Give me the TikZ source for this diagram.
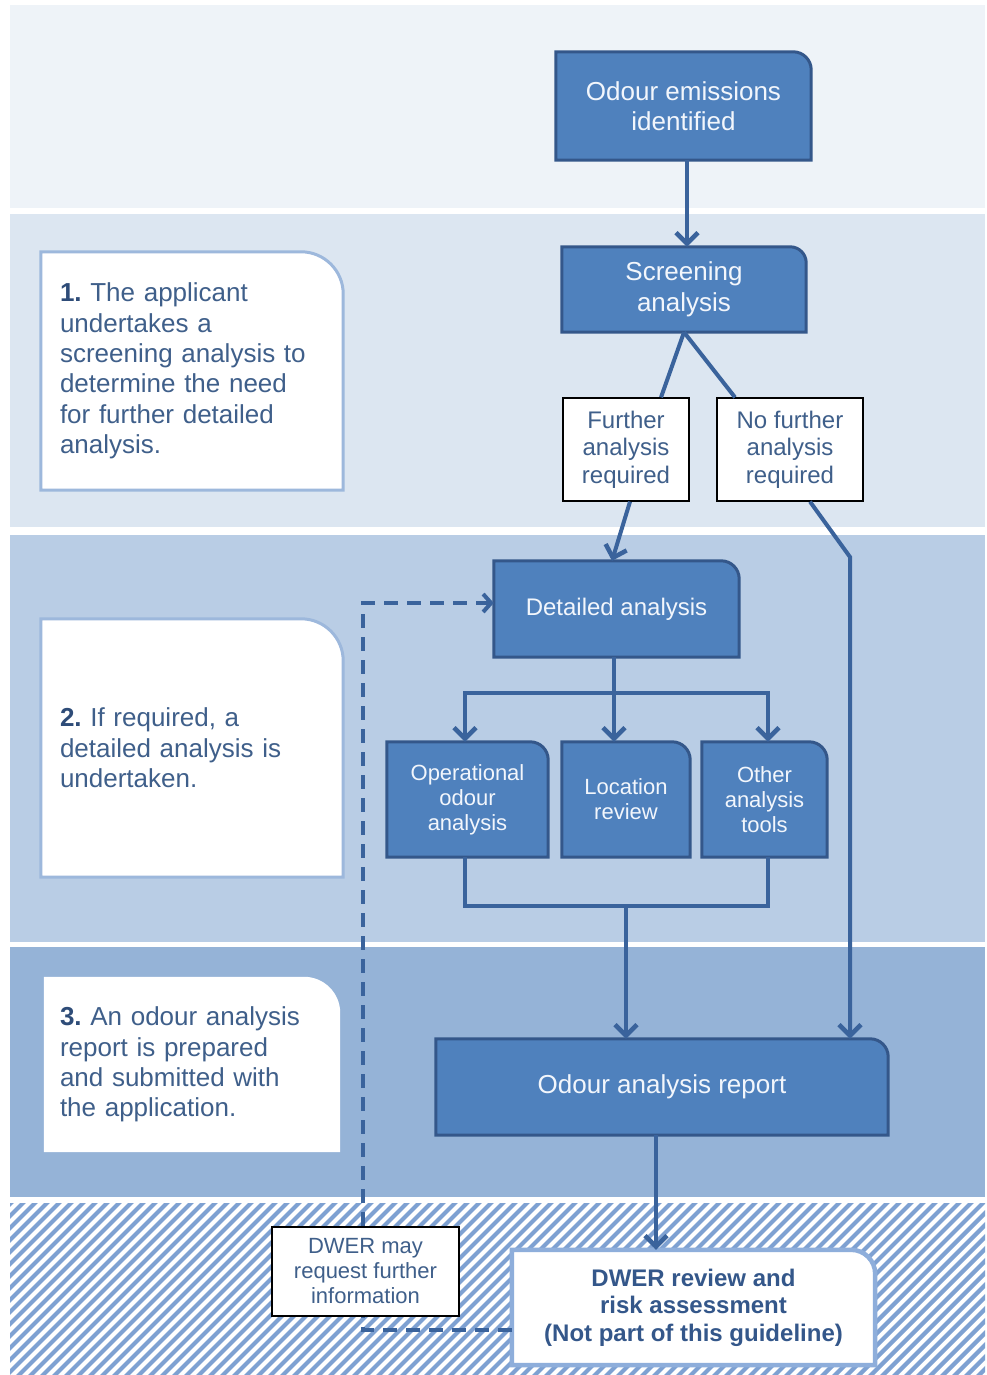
\documentclass[tikz,border=0pt]{standalone}
\usepackage{fontspec}
\setmainfont{Liberation Sans}
\usetikzlibrary{arrows.meta,calc}
\definecolor{bandA}{HTML}{EEF3F8}
\definecolor{bandB}{HTML}{DCE6F1}
\definecolor{bandC}{HTML}{B9CDE5}
\definecolor{bandD}{HTML}{95B3D7}
\definecolor{hatchc}{HTML}{7EA1D2}
\definecolor{boxfill}{HTML}{4F81BD}
\definecolor{boxline}{HTML}{34578A}
\definecolor{conncol}{HTML}{3A639C}
\definecolor{notetext}{HTML}{3F5F8A}
\definecolor{notenum}{HTML}{2E4C78}
\definecolor{noteline}{HTML}{9DB8DC}
\definecolor{boxtext}{HTML}{F2F6FC}
\definecolor{revline}{HTML}{8EAEDB}
\pgfdeclarelayer{bands}
\pgfdeclarelayer{shapes}
\pgfsetlayers{bands,shapes,main}
\newcommand\tabshape[3]{%
  \path[#3] (#1.south west) -- (#1.north west) -- ([xshift=-#2]#1.north east)
    .. controls ([xshift=-0.45*#2]#1.north east) and ([yshift=-0.45*#2]#1.north east) .. ([yshift=-#2]#1.north east) -- (#1.south east) -- cycle;}
\tikzset{
  bluebox/.style={fill=boxfill,draw=boxline,line width=3pt},
  notebox/.style={fill=white,draw=noteline,line width=3pt},
  ntext/.style={inner sep=0pt,text=boxtext,align=center},
  big/.style={font=\fontsize{26}{30.5}\selectfont},
  mid/.style={font=\fontsize{24}{27.5}\selectfont},
  small/.style={font=\fontsize{22}{25}\selectfont},
  wbox/.style={fill=white,draw=black,line width=1.3pt,inner sep=0pt,align=center,text=notetext},
  conn/.style={draw=conncol,line width=4pt},
  arr/.style={conn,-{Straight Barb[length=11pt,width=22pt,line width=4.5pt]}},
  dashline/.style={draw=conncol,line width=4pt,dash pattern=on 14pt off 9pt},
  hatch/.style={draw=hatchc,line width=4.2pt},
  note/.style={inner xsep=19pt,inner ysep=0pt,text width=264pt,align=left,text=notetext,
    font=\fontsize{26}{30.4}\selectfont}
}
\begin{document}
\frenchspacing
\begin{tikzpicture}[x=1pt,y=-1pt]
\useasboundingbox (0,0) rectangle (986,1375);
\begin{pgfonlayer}{bands}
  \fill[white] (0,0) rectangle (986,1375);
  \fill[bandA] (10,5) rectangle (985,208);
  \fill[bandB] (10,214) rectangle (985,527);
  \fill[bandC] (10,535) rectangle (985,942);
  \fill[bandD] (10,947) rectangle (985,1197);
  \begin{scope}
    \clip (10,1203) rectangle (985,1375);
    \foreach \i in {-190,-178,...,1000} \draw[hatch] (\i,1380) -- ++(182,-182);
  \end{scope}
\end{pgfonlayer}

% notes
\node[note,minimum width=302pt,minimum height=238pt] (n1) at (192,371)
  {\textbf{\color{notenum}1.} The applicant\\undertakes a\\screening analysis to\\determine the need\\for further detailed\\analysis.};
\node[note,minimum width=302pt,minimum height=258pt] (n2) at (192,748)
  {\textbf{\color{notenum}2.} If required, a\\detailed analysis is\\undertaken.};
\node[note,minimum width=296pt,minimum height=175pt,inner xsep=16pt] (n3) at (192,1064.5)
  {\textbf{\color{notenum}3.} An odour analysis\\report is prepared\\and submitted with\\the application.};

% flow boxes
\node[ntext,big,minimum width=255pt,minimum height=108pt] (emis) at (683.5,106) {Odour emissions\\identified};
\node[ntext,big,minimum width=244pt,minimum height=85pt] (screen) at (684,289.5) {Screening\\analysis};
\node[wbox,mid,minimum width=126pt,minimum height=103pt] (further) at (626,449.5) {Further\\analysis\\required};
\node[wbox,mid,minimum width=146pt,minimum height=103pt] (nofurther) at (790,449.5) {No further\\analysis\\required};
\node[ntext,mid,minimum width=245pt,minimum height=96pt] (detail) at (616.5,609) {Detailed analysis};
\node[ntext,small,minimum width=161pt,minimum height=115pt] (oper) at (467.5,799.5) {Operational\\odour\\analysis};
\node[ntext,small,minimum width=128pt,minimum height=115pt] (loc) at (626,799.5) {Location\\review};
\node[ntext,small,minimum width=125pt,minimum height=115pt] (other) at (764.5,799.5) {Other\\analysis\\tools};
\node[ntext,big,minimum width=452pt,minimum height=96pt] (report) at (662,1087) {Odour analysis report};
\node[inner sep=0pt,align=center,text=boxline,font=\fontsize{24}{27.5}\selectfont\bfseries,
  minimum width=363pt,minimum height=115pt] (review) at (693.5,1307.5)
  {DWER review and\\risk assessment\\(Not part of this guideline)};

\begin{pgfonlayer}{shapes}
  \tabshape{n1}{42pt}{notebox}
  \tabshape{n2}{42pt}{notebox}
  \tabshape{n3}{36pt}{fill=white}
  \tabshape{emis}{18pt}{bluebox}
  \tabshape{screen}{16pt}{bluebox}
  \tabshape{detail}{18pt}{bluebox}
  \tabshape{oper}{18pt}{bluebox}
  \tabshape{loc}{18pt}{bluebox}
  \tabshape{other}{18pt}{bluebox}
  \tabshape{report}{18pt}{bluebox}
  \tabshape{review}{24pt}{fill=white,draw=revline,line width=4.5pt}
\end{pgfonlayer}

% connectors
\draw[arr] ([xshift=3.5pt]emis.south) -- ([xshift=3.5pt]emis.south |- screen.north);
\draw[conn] (screen.south) -- ([xshift=35pt]further.north);
\draw[conn] (screen.south) -- ([xshift=-55pt]nofurther.north);
\draw[arr] ([xshift=4pt]further.south) -- ([xshift=-4.5pt]detail.north);
\coordinate (nf) at (850,557);
\draw[arr] ([xshift=20pt]nofurther.south) -- (nf) -- (nf |- report.north);
\draw[conn] ([xshift=-2.5pt]detail.south) -- ++(0,36) coordinate (br);
\draw[arr] (br) -| ([xshift=-2.5pt]oper.north);
\draw[arr] (br) -| ([xshift=3.5pt]other.north);
\draw[arr] (br) -- (br |- loc.north);
\draw[conn] ([xshift=-2.5pt]oper.south) -- ++(0,49) -| ([xshift=3.5pt]other.south);
\draw[arr] (loc.south |- 0,906) -- (loc.south |- report.north);
\draw[arr] ([xshift=-6pt]report.south) -- ([xshift=-6pt]report.south |- review.north);
\coordinate (dc) at (363,603);
\draw[dashline,-{Straight Barb[length=8pt,width=18pt,line width=4pt]}] ([yshift=-22.5pt]review.west) -| (dc) -- (dc -| detail.west);
\node[wbox,small,minimum width=187pt,minimum height=89pt] (request) at (365.5,1271.5)
  {DWER may\\request further\\information};
\end{tikzpicture}
\end{document}
